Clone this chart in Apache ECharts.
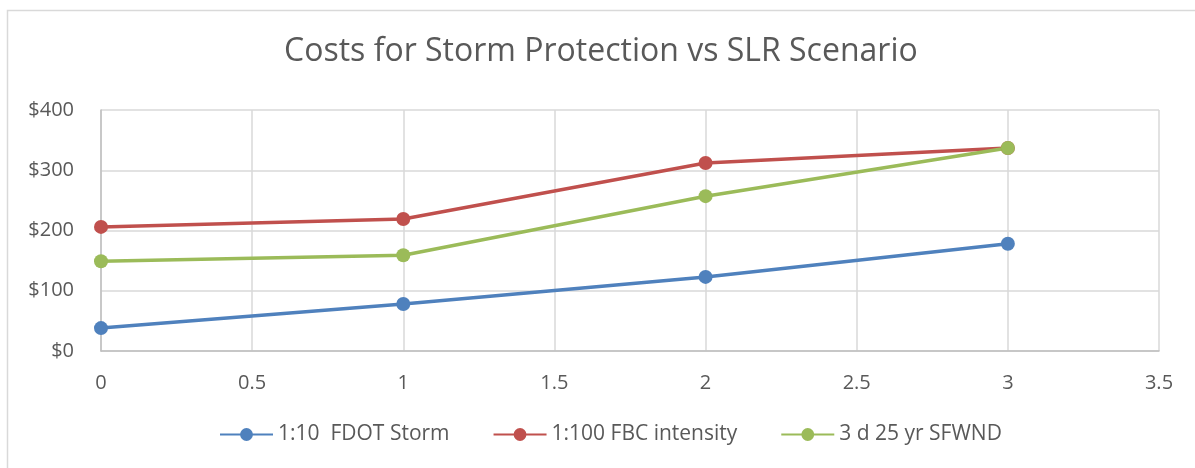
<!DOCTYPE html>
<html>
<head>
<meta charset="utf-8">
<script src="https://cdn.jsdelivr.net/npm/echarts@6/dist/echarts.min.js"></script>
<style>
  html, body { margin: 0; padding: 0; background: #fff; }
  #chart { width: 1195px; height: 468px; }
</style>
</head>
<body>
<div id="chart"></div>
<script>
const scenarios = [0, 1, 2, 3];
const fdotStorm = [38, 78, 123, 178];
const fbcIntensity = [206, 219, 312, 337];
const sfwnd = [149, 159, 257, 337];
const seriesNames = ["1:10  FDOT Storm", "1:100 FBC intensity", "3 d 25 yr SFWND"];
const seriesColors = ["#4f81bd", "#c0504d", "#9bbb59"];

const chart = echarts.init(document.getElementById("chart"));
const font = "Open Sans";

const toPairs = (vals) => scenarios.map((x, i) => [x, vals[i]]);

const option = {
  backgroundColor: "#fff",
  animation: false,
  // outer chart-area frame, runs off the right and bottom edges
  graphic: [
    {
      type: "rect",
      z: -1,
      shape: { x: 7.5, y: 10.5, width: 1300, height: 600 },
      style: { fill: "none", stroke: "#d9d9d9", lineWidth: 1.5 },
    },
  ],
  title: {
    text: "Costs for Storm Protection vs SLR Scenario",
    left: 279,
    top: 31,
    textStyle: { color: "#595959", fontSize: 32, fontWeight: "normal", fontFamily: font },
  },
  legend: {
    bottom: 18,
    left: 214,
    itemWidth: 53,
    itemHeight: 16,
    itemGap: 43,
    textStyle: { color: "#595959", fontSize: 21, fontFamily: font },
    data: seriesNames,
  },
  grid: { left: 101, right: 36, top: 110, bottom: 117 },
  xAxis: {
    type: "value",
    min: 0,
    max: 3.5,
    interval: 0.5,
    axisLine: { show: true, lineStyle: { color: "#bfbfbf", width: 1.5 } },
    axisTick: { show: false },
    splitLine: { show: true, lineStyle: { color: "#d9d9d9", width: 1.5 } },
    axisLabel: { color: "#595959", fontSize: 20, fontFamily: font, margin: 22 },
  },
  yAxis: {
    type: "value",
    min: 0,
    max: 400,
    interval: 100,
    axisLine: { show: true, lineStyle: { color: "#bfbfbf", width: 1.5 } },
    axisTick: { show: false },
    splitLine: { lineStyle: { color: "#d9d9d9", width: 1.5 } },
    axisLabel: { color: "#595959", fontSize: 20, fontFamily: font, margin: 27, formatter: (v) => "$" + v },
  },
  series: [fdotStorm, fbcIntensity, sfwnd].map((vals, i) => ({
    name: seriesNames[i],
    type: "line",
    data: toPairs(vals),
    symbol: "circle",
    symbolSize: 14,
    lineStyle: { width: 3.5, color: seriesColors[i] },
    itemStyle: { color: seriesColors[i] },
  })),
};

chart.setOption(option);
</script>
</body>
</html>
